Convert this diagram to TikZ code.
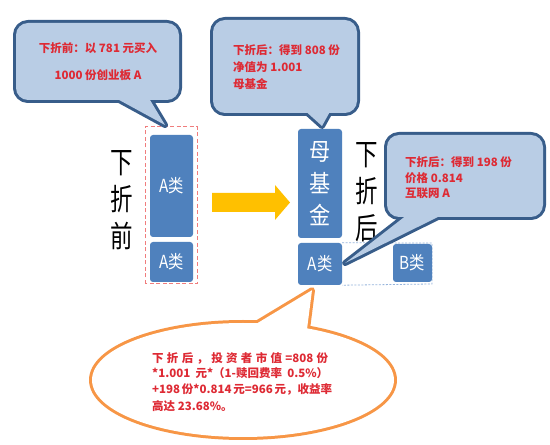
\documentclass[tikz,border=0pt]{standalone}
\usepackage{fontspec}
\setmainfont{Noto Sans CJK SC}
\usetikzlibrary{calc}
\definecolor{cfill}{RGB}{185,205,229}
\definecolor{cline}{RGB}{56,93,138}
\definecolor{boxblue}{RGB}{79,129,189}
\definecolor{txtred}{RGB}{222,42,52}
\definecolor{arrowyel}{RGB}{255,192,0}
\definecolor{orangeline}{RGB}{247,150,70}
\definecolor{dashred}{RGB}{240,125,125}
\definecolor{dotblue}{RGB}{150,180,220}
\begin{document}
\begin{tikzpicture}[x=1pt,y=1pt,
  bluebox/.style={fill=boxblue, rounded corners=3pt, text=white, inner sep=0pt, anchor=center},
  boxlabel/.style={font=\fontsize{18}{18}\selectfont, xscale=0.85},
  calltext/.style={text=txtred, font=\fontsize{11.5}{17}\selectfont\bfseries, inner sep=0pt},
  vtext/.style={font=\fontsize{30}{37}\selectfont, align=center, inner sep=0pt, xscale=0.75},
  cborder/.style={draw=cline, line width=6pt, line join=round},
  oborder/.style={draw=orangeline, line width=6pt, line join=round}]
\useasboundingbox (0,0) rectangle (550,445);
\fill[white] (0,0) rectangle (550,445);

% blue boxes
\node[bluebox, minimum width=43pt, minimum height=102pt] (A1) at (171.5,259) {};
\node[boxlabel, text=white] at (A1) {A类};
\node[bluebox, minimum width=43pt, minimum height=40pt] (A2) at (171.5,183) {};
\node[boxlabel, text=white] at (A2) {A类};
\draw[dashred, line width=1pt, dash pattern=on 4pt off 2.5pt] (145,161) rectangle (197,318);
\coordinate (t1) at (165,320);

\node[bluebox, minimum width=44pt, minimum height=109pt] (M) at (320,261.5) {};
\node[font=\fontsize{24}{32}\selectfont, align=center, text=white, xscale=0.88] at (M) {母\\基\\金};
\node[bluebox, minimum width=44pt, minimum height=42pt] (A3) at (320,181) {};
\node[boxlabel, text=white] at (A3) {A类};
\draw[dotblue, line width=0.8pt, dash pattern=on 2pt off 1.5pt]
  (A3.north east) -- (432,202) -- (432,161) -- (A3.south east);
\node[bluebox, minimum width=39pt, minimum height=38pt] (B) at (412.5,182) {};
\node[boxlabel, text=white] at (B) {B类};

% vertical labels
\node[vtext] (pre) at (122,245) {下\\折\\前};
\node[vtext] (post) at (367,253) {下\\折\\后};

% yellow arrow
\fill[arrowyel] (212,233) -- (275,233) -- (275,225) -- (290,242.5) -- (275,260) -- (275,252) -- (212,252) -- cycle;

% callout 1
\path[cborder, rounded corners=12pt] (16,345) rectangle (179,422);
\path[cborder] (110,350) -- (t1) -- (147,350);
\path[fill=cfill, rounded corners=12pt] (16,345) rectangle (179,422);
\path[fill=cfill] (110,350) -- (t1) -- (147,350) -- cycle;
\node[calltext, align=center, font=\fontsize{11.5}{27}\selectfont\bfseries] (c1t) at (98,383) {下折前：以 781 元买入\\1000 份创业板 A};

% callout 2
\coordinate (t2) at (322,319);
\path[cborder, rounded corners=12pt] (213,332) rectangle (357,425);
\path[cborder] (302,337) -- (t2) -- (332,337);
\path[fill=cfill, rounded corners=12pt] (213,332) rectangle (357,425);
\path[fill=cfill] (302,337) -- (t2) -- (332,337) -- cycle;
\node[calltext, align=left, anchor=west] (c2t) at (233,378) {下折后：得到 808 份\\净值为 1.001\\母基金};

% callout 3
\coordinate (t3) at ($(A3.east)+(3,1)$);
\path[cborder, rounded corners=12pt] (387,228) rectangle (543,310);
\path[cborder] (412,234) -- (t3) -- (450,234);
\path[fill=cfill, rounded corners=12pt] (387,228) rectangle (543,310);
\path[fill=cfill] (412,234) -- (t3) -- (450,234) -- cycle;
\node[calltext, align=left, anchor=west, font=\fontsize{11.5}{15.5}\selectfont\bfseries] (c3t) at (405,267) {下折后：得到 198 份\\价格 0.814\\互联网 A};

% orange callout
\coordinate (t4) at ($(A3.south)+(-8,-5)$);
\path[oborder] (243,65) ellipse [x radius=151, y radius=57];
\path[oborder] (251,118) -- (t4) -- (306,108);
\path[fill=white] (243,65) ellipse [x radius=151, y radius=57];
\path[fill=white] (251,118) -- (t4) -- (306,108) -- cycle;
\node[calltext, anchor=west] (e1) at (152,87) {\makebox[176pt][s]{下 折 后 ， 投 资 者 市 值 =808 份}};
\node[calltext, anchor=west] (e2) at (152,72) {\makebox[176pt][s]{*1.001 元*（1-赎回费率 0.5\%）}};
\node[calltext, anchor=west] (e3) at (152,56) {\makebox[176pt][s]{+198 份*0.814 元=966 元，收益率}};
\node[calltext, anchor=west] (e4) at (152,39) {高达 23.68\%。};
\end{tikzpicture}
\end{document}
